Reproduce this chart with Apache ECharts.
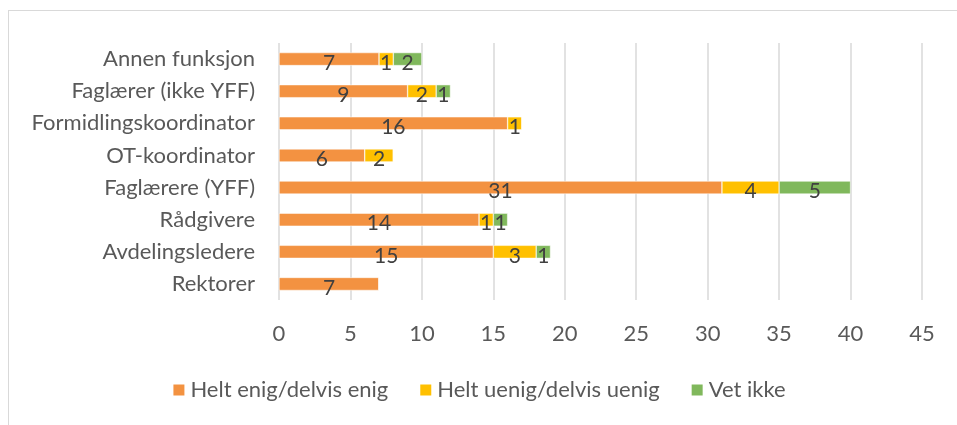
<!DOCTYPE html>
<html>
<head>
<meta charset="utf-8">
<script src="https://cdn.jsdelivr.net/npm/echarts@6/dist/echarts.min.js"></script>
<style>
  html, body { margin: 0; padding: 0; background: #fff; }
  #frame { position: absolute; left: 8px; top: 10px; width: 960px; height: 430px; border: 1px solid #d9d9d9; box-sizing: border-box; }
  #chart { position: absolute; left: 0; top: 0; width: 957px; height: 425px; }
</style>
</head>
<body>
<div id="frame"></div>
<div id="chart"></div>
<script>
// kategorier, ovenfra og ned
const categories = ['Annen funksjon', 'Faglærer (ikke YFF)', 'Formidlingskoordinator', 'OT-koordinator',
  'Faglærere (YFF)', 'Rådgivere', 'Avdelingsledere', 'Rektorer'];
const enig = [7, 9, 16, 6, 31, 14, 15, 7];
const uenig = [1, 2, 1, 2, 4, 1, 3, 0];
const vetIkke = [2, 1, 0, 0, 5, 1, 1, 0];
const seriesNames = ['Helt enig/delvis enig', 'Helt uenig/delvis uenig', 'Vet ikke'];
const colors = ['#F39241', '#FFC000', '#80B85C'];

const font = 'Lato, "Open Sans", sans-serif';
const textColor = '#595959';

function makeSeries(name, data, color) {
  return {
    name: name,
    type: 'bar',
    stack: 'total',
    barWidth: 13,
    data: data,
    itemStyle: { color: color, borderColor: '#fff', borderWidth: 0.5 },
    label: {
      show: true,
      position: 'inside',
      offset: [0, 4],
      color: '#404040',
      fontFamily: font,
      fontSize: 21,
      formatter: p => (p.value ? String(p.value) : '')
    }
  };
}

const chart = echarts.init(document.getElementById('chart'), null, { renderer: 'canvas' });
chart.setOption({
  animation: false,
  color: colors,
  grid: { left: 279, right: 35, top: 43, bottom: 125, containLabel: false },
  legend: {
    bottom: 19,
    left: 'center',
    itemWidth: 13,
    itemHeight: 13,
    itemGap: 30,
    icon: 'rect',
    textStyle: { color: textColor, fontFamily: font, fontSize: 22 },
    data: seriesNames
  },
  xAxis: {
    type: 'value',
    min: 0,
    max: 45,
    interval: 5,
    axisLine: { show: false },
    axisTick: { show: false },
    splitLine: { lineStyle: { color: '#d9d9d9', width: 1.5 } },
    axisLabel: { color: textColor, fontFamily: font, fontSize: 22, margin: 23 }
  },
  yAxis: {
    type: 'category',
    inverse: true,
    data: categories,
    axisLine: { show: false },
    axisTick: { show: false },
    axisLabel: { color: textColor, fontFamily: font, fontSize: 22, margin: 24, padding: [4, 0, 0, 0] }
  },
  series: [
    makeSeries(seriesNames[0], enig, colors[0]),
    makeSeries(seriesNames[1], uenig, colors[1]),
    makeSeries(seriesNames[2], vetIkke, colors[2])
  ]
});
</script>
</body>
</html>
